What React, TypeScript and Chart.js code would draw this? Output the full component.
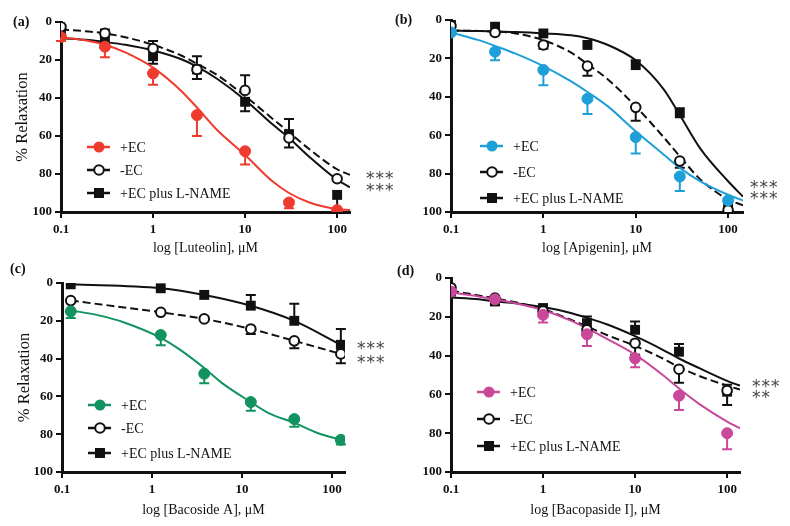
import React, { useEffect, useRef } from "react";
import { Chart, registerables } from "chart.js";
Chart.register(...registerables);

// ---------- data ----------
const xTickValues = [0.1, 1, 10, 100];
const seriesNames = ["+EC", "-EC", "+EC plus L-NAME"];

// (a) Luteolin
const concA = [0.1, 0.3, 1, 3, 10, 30, 100];
const ecA = [8, 13, 27, 49, 68, 95, 99];
const ecErrA = [[8, 10], [13, 18.5], [27, 33], [49, 60], [68, 75], [95, 98], [99, 99]];
const noEcA = [2.5, 6, 14, 25, 36, 61, 82.5];
const noEcErrA = [[2.5, 2.5], [4, 6], [10, 14], [18, 25], [28, 36], [51, 61], [82.5, 82.5]];
const lnA = [6, 10, 18, 25, 42, 59, 91];
const lnErrA = [[6, 6], [10, 10], [18, 22], [25, 30], [42, 47], [59, 66], [91, 99]];
const fitXA = [0.1, 0.2, 0.3, 0.5, 1, 2, 3, 5, 10, 20, 30, 50, 100, 138];
const fitEcA = [8, 10, 12, 16, 24, 36, 45, 57, 70, 84, 90, 95, 98.5, 99];
const fitNoEcA = [4, 5, 6, 8, 12, 17.5, 22, 28, 39, 51, 58, 67, 77.5, 80.5];
const fitLnA = [8.5, 9.5, 10.5, 12, 15, 19.5, 23.5, 30, 41, 54, 61, 71, 83, 87];

// (b) Apigenin
const concB = [0.1, 0.3, 1, 3, 10, 30, 100];
const ecB = [6.5, 16.5, 26, 41, 61, 81.5, 94];
const ecErrB = [[6.5, 6.5], [16.5, 21], [26, 34], [41, 49], [61, 69.5], [81.5, 89], [94, 94]];
const noEcB = [3, 6.5, 13, 24, 45.5, 73.5, 99];
const noEcErrB = [[3, 3], [6.5, 6.5], [13, 15], [24, 29], [45.5, 52.5], [73.5, 77], [99, 99]];
const lnB = [1, 3.5, 7, 13, 23.5, 48.6, 95.5];
const lnErrB = [[1, 1], [3.5, 3.5], [7, 7], [13, 13], [21, 23.5], [46, 48.6], [95.5, 95.5]];
const fitXB = [0.1, 0.2, 0.3, 0.5, 1, 2, 3, 5, 10, 20, 30, 50, 100, 145];
const fitEcB = [6.5, 10.5, 13.5, 17.5, 24, 32, 37.5, 45, 58, 70, 77, 84, 91, 94];
const fitNoEcB = [5.5, 5.7, 6, 7, 10.5, 17, 23, 31, 45, 61, 71, 83, 93.5, 96.5];
const fitLnB = [5.5, 5.7, 6, 6.3, 7, 8, 9.5, 13, 21, 36, 49.5, 67, 84, 92];

// (c) Bacoside A
const concC = [0.125, 1.25, 3.8, 12.5, 38, 125];
const ecC = [15, 27.5, 48, 63, 72, 83];
const ecErrC = [[15, 18.5], [27.5, 33], [48, 53], [63, 67.6], [72, 76], [83, 85.5]];
const noEcC = [9.3, 15.5, 19, 24.3, 30.6, 37.5];
const noEcErrC = [[9.3, 9.3], [15.5, 15.5], [19, 19], [24.3, 27], [30.6, 34.5], [37.5, 42.5]];
const lnC = [0.7, 2.8, 6.3, 12, 20, 32.7];
const lnErrC = [[0.7, 0.7], [2.8, 2.8], [6.3, 6.3], [6.3, 12], [11, 20], [24.3, 32.7]];
const fitXC = [0.125, 0.25, 0.5, 1.25, 2, 3.8, 6, 12.5, 20, 38, 70, 125];
const fitEcC = [14.5, 17, 21, 29, 35, 45, 53, 63, 69, 74, 79.5, 83];

// (d) Bacopaside I
const concD = [0.1, 0.3, 1, 3, 10, 30, 100];
const ecD = [7, 11, 19, 29, 41.4, 60.7, 80];
const ecErrD = [[7, 7], [11, 11], [19, 23], [29, 35], [41.4, 46], [60.7, 68], [80, 88.3]];
const noEcD = [5, 10.3, 17, 26.7, 33.6, 47, 58];
const noEcErrD = [[5, 5], [10.3, 10.3], [17, 17], [26.7, 26.7], [33.6, 39.6], [47, 54], [58, 58]];
const lnD = [7, 12, 15.5, 23.3, 26.7, 38, 58.6];
const lnErrD = [[7, 7], [12, 14], [13.8, 15.5], [19.8, 23.3], [22.4, 26.7], [34, 38], [55, 65.5]];
const fitXD = [0.1, 0.2, 0.3, 0.5, 1, 2, 3, 5, 10, 20, 30, 50, 100, 138];
const fitEcD = [7.5, 9.5, 11, 13, 16.5, 22, 26, 31.5, 39.5, 50, 57, 65, 74, 77.5];
const fitNoEcD = [6.5, 9, 10.5, 12.5, 16, 21.5, 25, 29.5, 35, 41.5, 46, 50.5, 55.5, 57.5];
const fitLnD = [10, 11, 12, 13, 15, 18, 20.5, 24, 30, 37, 41.5, 46.5, 53, 55.5];

// ---------- panel definitions ----------
type Layout = {
  x: number; y: number; w: number; h: number;
  left: number; top: number; right: number; bottom: number;
  xTitlePad: number; yTitlePad: number;
  labelX: number; labelY: number;
  starX: number; starY: number[];
  legX: number; legY: number[];
};
type Panel = {
  label: string; xTitle: string; yTitle: string | null; color: string; xMax: number;
  conc: number[];
  values: number[][]; errs: number[][][];
  fits: { x: number[]; y: number[] }[];
  stars: string[];
  layout: Layout;
};

const panels: Panel[] = [
  {
    label: "(a)", xTitle: "log [Luteolin], \u03bcM", yTitle: "% Relaxation", color: "#EE3B2E", xMax: 138,
    conc: concA, values: [ecA, noEcA, lnA], errs: [ecErrA, noEcErrA, lnErrA],
    fits: [{ x: fitXA, y: fitEcA }, { x: fitXA, y: fitNoEcA }, { x: fitXA, y: fitLnA }],
    stars: ["***", "***"],
    layout: { x: 0, y: 0, w: 400, h: 263, left: 61, top: 22, right: 350, bottom: 212, xTitlePad: 6, yTitlePad: 13,
      labelX: 13, labelY: 22, starX: 366, starY: [175, 187], legX: 87, legY: [147, 170, 193] },
  },
  {
    label: "(b)", xTitle: "log [Apigenin], \u03bcM", yTitle: null, color: "#1E9FD8", xMax: 145,
    conc: concB, values: [ecB, noEcB, lnB], errs: [ecErrB, noEcErrB, lnErrB],
    fits: [{ x: fitXB, y: fitEcB }, { x: fitXB, y: fitNoEcB }, { x: fitXB, y: fitLnB }],
    stars: ["***", "***"],
    layout: { x: 390, y: 0, w: 400, h: 263, left: 61, top: 20, right: 353, bottom: 212, xTitlePad: 6, yTitlePad: 12,
      labelX: 5, labelY: 20, starX: 360, starY: [184, 195], legX: 90, legY: [146, 172, 198] },
  },
  {
    label: "(c)", xTitle: "log [Bacoside A], \u03bcM", yTitle: "% Relaxation", color: "#12925E", xMax: 139,
    conc: concC, values: [ecC, noEcC, lnC], errs: [ecErrC, noEcErrC, lnErrC],
    fits: [{ x: fitXC, y: fitEcC }, { x: concC, y: noEcC }, { x: concC, y: lnC }],
    stars: ["***", "***"],
    layout: { x: 0, y: 263, w: 400, h: 263, left: 62, top: 20, right: 345, bottom: 209, xTitlePad: 7, yTitlePad: 15,
      labelX: 10, labelY: 6, starX: 357, starY: [82, 96], legX: 88, legY: [142, 165, 190] },
  },
  {
    label: "(d)", xTitle: "log [Bacopaside I], \u03bcM", yTitle: null, color: "#C9489A", xMax: 138,
    conc: concD, values: [ecD, noEcD, lnD], errs: [ecErrD, noEcErrD, lnErrD],
    fits: [{ x: fitXD, y: fitEcD }, { x: fitXD, y: fitNoEcD }, { x: fitXD, y: fitLnD }],
    stars: ["***", "**"],
    layout: { x: 390, y: 263, w: 400, h: 263, left: 61, top: 15, right: 350, bottom: 209, xTitlePad: 7, yTitlePad: 12,
      labelX: 7, labelY: 8, starX: 362, starY: [120, 131], legX: 87, legY: [129, 156, 183] },
  },
];

const INK = "#111111";
const SERIF = "'Liberation Serif', 'Times New Roman', serif";
const DASH = [8, 4];

function drawMarker(ctx: CanvasRenderingContext2D, kind: number, x: number, y: number, color: string) {
  ctx.save();
  ctx.setLineDash([]);
  if (kind === 0) {
    ctx.beginPath();
    ctx.arc(x, y, 5.5, 0, Math.PI * 2);
    ctx.fillStyle = color;
    ctx.fill();
  } else if (kind === 1) {
    ctx.beginPath();
    ctx.arc(x, y, 4.8, 0, Math.PI * 2);
    ctx.fillStyle = "#ffffff";
    ctx.fill();
    ctx.lineWidth = 2;
    ctx.strokeStyle = INK;
    ctx.stroke();
  } else {
    ctx.fillStyle = INK;
    ctx.fillRect(x - 5, y - 5, 10, 10);
  }
  ctx.restore();
}

function PanelChart({ p }: { p: Panel }) {
  const ref = useRef<HTMLCanvasElement>(null);
  useEffect(() => {
    const L = p.layout;
    const colors = [p.color, INK, INK];

    const errorBars = {
      id: "errorBars",
      beforeDatasetsDraw(chart: any) {
        const { ctx, scales } = chart;
        ctx.save();
        ctx.lineWidth = 2;
        p.errs.forEach((errs, s) => {
          ctx.strokeStyle = colors[s];
          errs.forEach((pair, i) => {
            const x = scales.x.getPixelForValue(p.conc[i]);
            const yv = scales.y.getPixelForValue(p.values[s][i]);
            pair.forEach((e) => {
              if (Math.abs(e - p.values[s][i]) < 0.01) return;
              const ye = scales.y.getPixelForValue(e);
              ctx.beginPath();
              ctx.moveTo(x, yv);
              ctx.lineTo(x, ye);
              ctx.moveTo(x - 5, ye);
              ctx.lineTo(x + 5, ye);
              ctx.stroke();
            });
          });
        });
        ctx.restore();
      },
    };

    const decor = {
      id: "decor",
      afterDraw(chart: any) {
        const ctx: CanvasRenderingContext2D = chart.ctx;
        ctx.save();
        // panel label
        ctx.fillStyle = INK;
        ctx.font = `bold 14px ${SERIF}`;
        ctx.textBaseline = "middle";
        ctx.textAlign = "left";
        ctx.fillText(p.label, L.labelX, L.labelY);
        // stars
        ctx.fillStyle = "#444";
        ctx.font = "17px 'DejaVu Sans', sans-serif";
        (ctx as any).letterSpacing = "1px";
        p.stars.forEach((s, i) => ctx.fillText(s, L.starX, L.starY[i] + 5));
        (ctx as any).letterSpacing = "0px";
        // legend
        ctx.font = `14px ${SERIF}`;
        seriesNames.forEach((name, i) => {
          const y = L.legY[i];
          ctx.strokeStyle = colors[i];
          ctx.lineWidth = 2.5;
          ctx.setLineDash([]);
          ctx.beginPath();
          if (i === 1) {
            ctx.moveTo(L.legX, y); ctx.lineTo(L.legX + 7, y);
            ctx.moveTo(L.legX + 16, y); ctx.lineTo(L.legX + 23, y);
          } else {
            ctx.moveTo(L.legX, y); ctx.lineTo(L.legX + 23, y);
          }
          ctx.stroke();
          drawMarker(ctx, i, L.legX + 12, y, colors[i]);
          ctx.fillStyle = INK;
          ctx.fillText(name, L.legX + 33, y + 1);
        });
        ctx.restore();
      },
    };

    const pointStyles = [
      { pointStyle: "circle", pointRadius: 5.5, pointBackgroundColor: p.color, pointBorderColor: p.color, pointBorderWidth: 1 },
      { pointStyle: "circle", pointRadius: 4.8, pointBackgroundColor: "#ffffff", pointBorderColor: INK, pointBorderWidth: 2 },
      { pointStyle: "rect", pointRadius: 7, pointBackgroundColor: INK, pointBorderColor: INK, pointBorderWidth: 0 },
    ];

    const datasets: any[] = [];
    p.values.forEach((vals, s) => {
      datasets.push({
        label: seriesNames[s],
        data: p.conc.map((c, i) => ({ x: c, y: vals[i] })),
        showLine: false,
        order: s,
        ...pointStyles[s],
      });
    });
    p.fits.forEach((f, s) => {
      datasets.push({
        label: seriesNames[s] + " fit",
        data: f.x.map((c, i) => ({ x: c, y: f.y[i] })),
        showLine: true,
        pointRadius: 0,
        borderColor: colors[s],
        borderWidth: 2,
        borderDash: s === 1 ? DASH : [],
        cubicInterpolationMode: "monotone",
        order: 10 + s,
      });
    });

    const tickFont = { family: SERIF, size: 13, weight: "bold" as const };
    const chart = new Chart(ref.current!, {
      type: "scatter",
      data: { datasets },
      options: {
        animation: false,
        responsive: false,
        maintainAspectRatio: false,
        devicePixelRatio: 1,
        layout: { padding: { left: 0, top: L.top, right: L.w - L.right, bottom: 0 } },
        plugins: { legend: { display: false }, tooltip: { enabled: false } },
        scales: {
          x: {
            type: "logarithmic",
            min: 0.1,
            max: p.xMax,
            afterBuildTicks: (s: any) => { s.ticks = xTickValues.map((v) => ({ value: v })); },
            afterFit: (s: any) => { s.height = L.h - L.bottom; },
            ticks: { callback: (v: any) => String(v), font: tickFont, color: INK, padding: 4, maxRotation: 0, autoSkip: false },
            grid: { drawOnChartArea: false, drawTicks: true, tickLength: 6, color: INK, lineWidth: 2 },
            border: { display: true, width: 3, color: INK },
            title: { display: true, text: p.xTitle, font: { family: SERIF, size: 14 }, color: INK, padding: { top: 0, bottom: L.xTitlePad } },
          },
          y: {
            type: "linear",
            reverse: true,
            min: 0,
            max: 100,
            afterFit: (s: any) => { s.width = L.left; },
            ticks: { stepSize: 20, font: tickFont, color: INK, padding: 3 },
            grid: { drawOnChartArea: false, drawTicks: true, tickLength: 6, color: INK, lineWidth: 2 },
            border: { display: true, width: 3, color: INK },
            title: { display: !!p.yTitle, text: p.yTitle || "", font: { family: SERIF, size: 16.5 }, color: INK, padding: { top: L.yTitlePad, bottom: 0 } },
          },
        },
      } as any,
      plugins: [errorBars, decor],
    });
    return () => chart.destroy();
  }, []);
  const L = p.layout;
  return (
    <canvas
      ref={ref}
      width={L.w}
      height={L.h}
      style={{ position: "absolute", left: L.x, top: L.y, width: L.w, height: L.h }}
    />
  );
}

export default function App() {
  return (
    <div style={{ position: "fixed", left: 0, top: 0, width: 790, height: 526, background: "#ffffff", overflow: "hidden" }}>
      {panels.map((p) => (
        <PanelChart key={p.label} p={p} />
      ))}
    </div>
  );
}
